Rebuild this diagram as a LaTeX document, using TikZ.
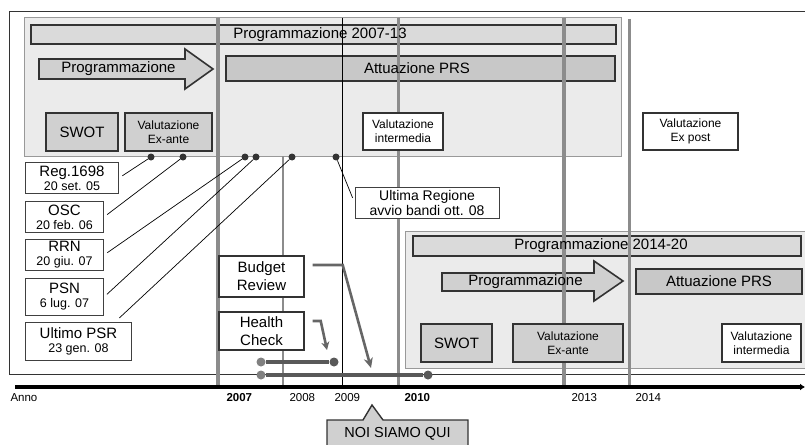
\documentclass[tikz,border=0pt]{standalone}
\usepackage{fontspec}
\setmainfont{Liberation Sans}
\usetikzlibrary{arrows.meta, positioning}
\definecolor{panelgray}{HTML}{EBEBEB}
\definecolor{bargray}{HTML}{DADADA}
\definecolor{darkbar}{HTML}{C8C8C8}
\definecolor{boxgray}{HTML}{D0D0D0}
\definecolor{linegray}{HTML}{8C8C8C}
\definecolor{ink}{HTML}{333333}
\newcommand{\dtxt}[1]{{\fontsize{12.5}{14}\selectfont #1}}

\begin{document}
\begin{tikzpicture}[
    x=1pt, y=-1pt,
    panel/.style={draw=black!40, fill=panelgray, line width=0.8pt, inner sep=0},
    bar/.style={draw=ink, line width=1.6pt, inner sep=0},
    parrow/.style={draw=ink, fill=boxgray, line width=1.6pt, line join=miter},
    gbox/.style={draw=ink, fill=boxgray, line width=1.6pt, align=center, inner sep=0},
    wbox/.style={draw=ink, fill=white, line width=1.4pt, align=center, inner sep=0},
    evbox/.style={draw=black!75, fill=white, line width=1pt, align=center, inner sep=0,
        font=\fontsize{15}{14}\selectfont},
    small/.style={font=\fontsize{12}{14}\selectfont},
    yline/.style={draw=linegray, line width=#1},
    ydot/.style={circle, fill=ink, inner sep=0, minimum size=7},
    evline/.style={draw=black, line width=0.7pt, shorten >=4pt},
    tl/.style={draw=black!65, line width=3.5pt},
    tdot/.style={circle, fill=black!65, inner sep=0, minimum size=9},
    garrow/.style={draw=black!60, line width=2.6pt, line join=miter, -{Stealth[length=10pt, width=9pt, inset=3pt]}},
    yr/.style={anchor=west, font=\fontsize{11.5}{12}\selectfont},
    lbl/.style={font=\fontsize{15}{18}\selectfont}
]
\useasboundingbox (0,0) rectangle (805,444);

% outer frame
\draw[ink, line width=1pt] (9,374) -- (9,12) -- (812,12);
\draw[ink, line width=1pt] (9,374) -- (812,374);

% panels
\node[panel, minimum width=597, minimum height=139] (pA) at (322.5,86.5) {};
\node[panel, anchor=north west, minimum width=410, minimum height=137] (pB) at (405,231) {};

% 2007-13 bars
\node[bar, fill=bargray, minimum width=585, minimum height=19] (titleA) at (323.5,34.5) {};
\draw[parrow] (39,59) -- (185,59) -- (185,49) -- (213,69) -- (185,89) -- (185,79) -- (39,79) -- cycle;
\node[bar, fill=darkbar, minimum width=389, minimum height=25] (attA) at (420.5,68.5) {};

% 2014-20 bars
\node[bar, fill=bargray, minimum width=388, minimum height=20] (titleB) at (607,246) {};
\draw[parrow] (442,273) -- (594,273) -- (594,261) -- (623,281) -- (594,301) -- (594,291) -- (442,291) -- cycle;
\node[bar, fill=darkbar, minimum width=166, minimum height=25] (attB) at (719,281.5) {};

% year lines
\draw[yline=4pt] (218,18) -- (218,387);
\draw[yline=1.8pt] (283,156) -- (283,387);
\draw[black, line width=0.8pt] (342,18) -- (342,387);
\draw[yline=3pt] (398,18) -- (398,387);
\draw[yline=4.2pt] (564,18) -- (564,387);
\draw[yline=3pt] (629,19) -- (629,387);

% bar texts
\node[lbl] (titleAtxt) at (320,34.5) {Programmazione 2007-13};
\node[lbl] (progA) at (118.5,69) {Programmazione};
\node[lbl] (attAtxt) at (417,68.5) {Attuazione PRS};
\node[lbl] (titleBtxt) at (601,246) {Programmazione 2014-20};
\node[lbl] (progB) at (525.5,282) {Programmazione};
\node[lbl] (attBtxt) at (719,281.5) {Attuazione PRS};

% boxes 2007-13
\node[gbox, lbl, minimum width=72, minimum height=38] (swotA) at (82,132) {SWOT};
\node[gbox, small, minimum width=87, minimum height=38] (exA) at (168.5,132) {Valutazione\\Ex-ante};
\node[wbox, small, minimum width=80, minimum height=37] (intA) at (403,131.5) {Valutazione\\intermedia};
\node[wbox, small, minimum width=95, minimum height=37] (expost) at (690.5,131.5) {Valutazione\\Ex post};

% boxes 2014-20
\node[gbox, lbl, minimum width=71, minimum height=38] (swotB) at (456.5,343) {SWOT};
\node[gbox, small, minimum width=110, minimum height=38] (exB) at (568,343) {Valutazione\\Ex-ante};
\node[wbox, small, minimum width=79, minimum height=38] (intB) at (761.5,343) {Valutazione\\intermedia};

% events
\node[evbox, anchor=north west, minimum width=93, minimum height=31] (reg) at (25,162) {Reg.1698\\\dtxt{20 set. 05}};
\node[evbox, below=7pt of reg.south west, anchor=north west, minimum width=78, minimum height=31] (osc) {OSC\\\dtxt{20 feb. 06}};
\node[evbox, below=6pt of osc.south west, anchor=north west, minimum width=78, minimum height=31] (rrn) {RRN\\\dtxt{20 giu. 07}};
\node[evbox, below=7pt of rrn.south west, anchor=north west, minimum width=78, minimum height=37] (psn) {PSN\\\dtxt{6 lug. 07}};
\node[evbox, below=6pt of psn.south west, anchor=north west, minimum width=106, minimum height=38] (psr) {Ultimo PSR\\\dtxt{23 gen. 08}};
\node[evbox, font=\fontsize{14}{15}\selectfont, minimum width=144, minimum height=31] (ultima) at (427,202.5) {Ultima Regione\\avvio bandi ott. 08};

\node[ydot] (d1) at (151,157) {};
\node[ydot] (d2) at (183,157) {};
\node[ydot] (d3) at (245,157) {};
\node[ydot] (d4) at (256,157) {};
\node[ydot] (d5) at (292,157) {};
\node[ydot] (d6) at (336,157) {};
\draw[evline] (d1) -- (reg.east);
\draw[evline] (d2) -- (osc.east);
\draw[evline] (d3) -- (rrn.east);
\draw[evline] (d4) -- (psn.east);
\draw[evline, shorten >=6pt] (d5) -- ([xshift=-17pt]psr.north east);
\draw[evline, shorten >=5pt] (d6) -- (ultima.west);

% budget review / health check
\node[wbox, lbl, minimum width=85, minimum height=41] (br) at (261.5,276.5) {Budget\\Review};
\node[wbox, lbl, minimum width=85, minimum height=38] (hc) at (261.5,331) {Health\\Check};
\coordinate (brtip) at (371,368);
\coordinate (hctip) at (327,350);
\draw[garrow] ([xshift=8pt,yshift=11.5pt]br.east) -- ++(30,0) -- (brtip);
\draw[garrow, -{Stealth[length=8pt, width=8pt, inset=2.5pt]}] ([xshift=8pt,yshift=10pt]hc.east) -- ++(8,0) -- (hctip);

\node[tdot, fill=black!50] (hcs) at (261,362) {};
\node[tdot] (hce) at (334,362) {};
\node[tdot, fill=black!50] (brs) at (261,375) {};
\node[tdot] (bre) at (428,375) {};
\draw[tl] (hcs) -- (hce);
\draw[tl] (brs) -- (bre);

% axis
\coordinate (axs) at (15,387);
\coordinate (axe) at (805,387);
\draw[black, line width=4pt, -{Latex[length=5pt, width=7pt]}] (axs) -- (axe);
\node[yr] (anno) at (7,398) {Anno};
\node[yr, font=\fontsize{11.5}{12}\selectfont\bfseries] (y7) at (223,398) {2007};
\node[yr] (y8) at (286,398) {2008};
\node[yr] (y9) at (331,398) {2009};
\node[yr, font=\fontsize{11.5}{12}\selectfont\bfseries] (y10) at (401,398) {2010};
\node[yr] (y13) at (568,398) {2013};
\node[yr] (y14) at (632,398) {2014};

% noi siamo qui
\draw[draw=ink, fill=boxgray, line width=1.4pt, line join=miter] (327,420) -- (363,420) -- (372,405) -- (383,420) -- (468,420) -- (468,452) -- (327,452) -- cycle;
\node[font=\fontsize{14.5}{16}\selectfont] (qui) at (397.5,434) {NOI SIAMO QUI};
\end{tikzpicture}
\end{document}
